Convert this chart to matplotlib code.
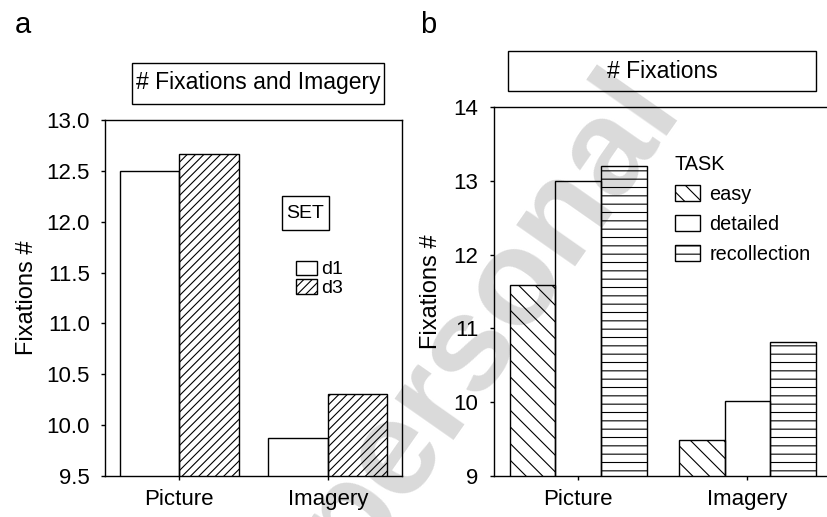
import numpy as np
import matplotlib
matplotlib.use('Agg')
import matplotlib.pyplot as plt
from matplotlib.patches import Rectangle

plt.rcParams['font.family'] = ['Liberation Sans', 'DejaVu Sans']
plt.rcParams['hatch.linewidth'] = 0.8

# panel a data
conditions = ['Picture', 'Imagery']
set_names = ['d1', 'd3']
d1_vals = [12.50, 9.87]
d3_vals = [12.67, 10.31]

# panel b data
task_names = ['easy', 'detailed', 'recollection']
easy_vals = [11.59, 9.49]
detailed_vals = [13.00, 10.02]
recollection_vals = [13.20, 10.82]

W, H = 827, 517
fig = plt.figure(figsize=(W / 100, H / 100), dpi=100)


def box(x0, y0, x1, y1):
    # rectangle given in pixels from the top-left corner
    fig.add_artist(Rectangle((x0 / W, 1 - y1 / H), (x1 - x0) / W, (y1 - y0) / H,
                             transform=fig.transFigure, facecolor='none',
                             edgecolor='black', linewidth=1, zorder=5))


# watermark, drawn behind everything
fig.text(488 / W, 1 - 317 / H, 'personal', fontsize=98, fontweight='bold', color='#dadada',
         rotation=55, rotation_mode='anchor', ha='center', va='center', zorder=-1)

# ---- panel a ----
ax1 = fig.add_axes([0.127, 0.0793, 0.359, 0.6887])
ax1.patch.set_visible(False)
x = np.arange(len(conditions))
w = 0.4
ax1.bar(x - w / 2, d1_vals, w, color='none', edgecolor='black', linewidth=1, label=set_names[0])
ax1.bar(x + w / 2, d3_vals, w, color='none', edgecolor='black', linewidth=1, hatch='////', label=set_names[1])
ax1.set_xlim(-0.5, 1.5)
ax1.set_ylim(9.5, 13.0)
yt = np.arange(9.5, 13.01, 0.5)
ax1.set_yticks(yt)
ax1.set_yticklabels(['%.1f' % v for v in yt])
ax1.set_xticks(x)
ax1.set_xticklabels(conditions)
ax1.tick_params(axis='both', direction='out', length=3, width=1, labelsize=16)
ax1.tick_params(axis='y', pad=8)
ax1.tick_params(axis='x', pad=6)
ax1.set_ylabel('Fixations #', fontsize=17, labelpad=6)
for s in ax1.spines.values():
    s.set_linewidth(1)

box(132, 63, 384, 104)
fig.text(258 / W, 1 - 83 / H, '# Fixations and Imagery', fontsize=16.5, ha='center', va='center')
box(282, 196, 329, 230)
fig.text(305.5 / W, 1 - 213 / H, 'SET', fontsize=14, ha='center', va='center')
ax1.legend(loc='upper left', bbox_to_anchor=(0.643, 0.605), frameon=False, fontsize=14,
           handlelength=1.1, handleheight=0.75, handletextpad=0.2, labelspacing=0.05,
           borderaxespad=0, borderpad=0)

# ---- panel b ----
ax2 = fig.add_axes([0.597, 0.0793, 0.409, 0.7137])
ax2.patch.set_visible(False)
w2 = 0.27
ax2.bar(x - w2, easy_vals, w2, color='none', edgecolor='black', linewidth=1, hatch='\\\\', label=task_names[0])
ax2.bar(x, detailed_vals, w2, color='none', edgecolor='black', linewidth=1, label=task_names[1])
ax2.bar(x + w2, recollection_vals, w2, color='none', edgecolor='black', linewidth=1, hatch='--', label=task_names[2])
ax2.set_xlim(-0.5, 1.5)
ax2.set_ylim(9, 14)
ax2.set_yticks(np.arange(9, 15))
ax2.set_xticks(x)
ax2.set_xticklabels(conditions)
ax2.tick_params(axis='both', direction='out', length=3, width=1, labelsize=16)
ax2.tick_params(axis='y', pad=8)
ax2.tick_params(axis='x', pad=6)
ax2.set_ylabel('Fixations #', fontsize=17, labelpad=8)
ax2.spines['right'].set_visible(False)
for s in ax2.spines.values():
    s.set_linewidth(1)

ax2.legend(loc='upper left', bbox_to_anchor=(0.535, 0.870), frameon=False, fontsize=14.3,
           title='TASK', title_fontsize=14.3, alignment='left',
           handlelength=1.3, handleheight=0.85, handletextpad=0.45, labelspacing=0.55,
           borderaxespad=0, borderpad=0)

box(508, 51, 816, 91)
fig.text(662 / W, 1 - 71 / H, '# Fixations', fontsize=16.5, ha='center', va='center')

fig.text(15 / W, 1 - 25 / H, 'a', fontsize=21, ha='left', va='center')
fig.text(420 / W, 1 - 25 / H, 'b', fontsize=21, ha='left', va='center')

fig.savefig('out.png', dpi=100, facecolor='white')
